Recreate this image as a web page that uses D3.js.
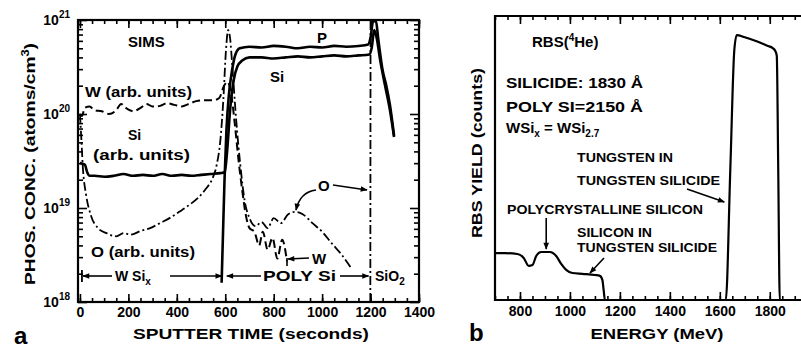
<!DOCTYPE html>
<html>
<head>
<meta charset="utf-8">
<script src="https://cdn.jsdelivr.net/npm/d3@7"></script>
<style>
  body { margin: 0; background: #fff; }
  text { font-family: "Liberation Sans", Arial, sans-serif; font-weight: bold; fill: #000; }
</style>
</head>
<body>
<svg id="fig" width="801" height="350"></svg>
<script>
// ---------- (a) SIMS depth profiles: sputter time (s) vs concentration ----------
const pTime  = [585, 590, 597, 605, 615, 628, 642, 660, 700, 750, 800, 850, 900, 950, 1000, 1050, 1100, 1150, 1190, 1200, 1210, 1222, 1232, 1250, 1265, 1280, 1297];
const pConc  = [1.6e18, 4.6e18, 2.0e19, 6.8e19, 1.6e20, 2.9e20, 4.3e20, 5.0e20, 5.2e20, 5.1e20, 5.3e20, 5.2e20, 5.0e20, 5.2e20, 5.1e20, 5.3e20, 5.2e20, 5.3e20, 5.5e20, 6.5e20, 9.6e20, 9.8e20, 6.2e20, 2.9e20, 2.0e20, 1.25e20, 5.9e19];

const siTime = [0, 20, 30, 40, 60, 100, 140, 180, 220, 260, 300, 340, 380, 420, 460, 500, 540, 580, 598, 608, 620, 635, 650, 670, 700, 750, 800, 850, 900, 950, 1000, 1050, 1100, 1150, 1195, 1205, 1215, 1225, 1240, 1260, 1280, 1297];
const siConc = [3.0e19, 2.9e19, 2.4e19, 2.2e19, 2.2e19, 2.15e19, 2.2e19, 2.3e19, 2.2e19, 2.25e19, 2.2e19, 2.3e19, 2.2e19, 2.25e19, 2.2e19, 2.25e19, 2.3e19, 2.35e19, 2.4e19, 4.1e19, 1.1e20, 2.3e20, 3.2e20, 3.7e20, 4.0e20, 4.0e20, 3.9e20, 4.0e20, 4.1e20, 4.0e20, 4.1e20, 4.2e20, 4.1e20, 4.2e20, 4.3e20, 5.1e20, 7.8e20, 6.5e20, 3.7e20, 2.0e20, 1.1e20, 5.7e19];

const wTime  = [0, 8, 20, 40, 60, 90, 120, 150, 170, 190, 220, 250, 275, 300, 330, 360, 390, 420, 450, 480, 510, 550, 575, 595, 610, 625, 640, 655, 670, 685, 700, 720, 740, 755, 775, 795, 815, 835, 855];
const wConc  = [1.0e20, 0.95e20, 1.16e20, 1.2e20, 1.1e20, 1.07e20, 1.0e20, 1.1e20, 1.28e20, 1.16e20, 1.07e20, 1.16e20, 1.28e20, 1.2e20, 1.22e20, 1.3e20, 1.25e20, 1.2e20, 1.28e20, 1.37e20, 1.4e20, 1.4e20, 1.48e20, 2.0e20, 2.2e20, 1.6e20, 7.6e19, 3.2e19, 1.55e19, 8.4e18, 6.1e18, 5.6e18, 4.0e18, 5.6e18, 3.6e18, 4.8e18, 2.9e18, 4.6e18, 2.7e18];

// oxygen: bulk profile, then the rise at the poly-Si / SiO2 interface
const oTime  = [0, 6, 12, 25, 45, 75, 110, 150, 180, 210, 250, 290, 330, 370, 410, 450, 490, 520, 545, 565, 580, 592, 603, 612, 620, 630, 645, 662, 680, 700, 725, 750, 775, 800, 830, 860, 890, 920, 960, 1000, 1040, 1080, 1120, null, 1199, 1200];
const oConc  = [1.0e20, 5.3e19, 2.7e19, 1.4e19, 8.4e18, 6.1e18, 5.4e18, 5.0e18, 5.4e18, 5.2e18, 5.7e18, 6.1e18, 6.9e18, 7.8e18, 9.1e18, 1.07e19, 1.3e19, 1.6e19, 2.0e19, 2.9e19, 5.3e19, 1.4e20, 4.8e20, 7.8e20, 6.4e20, 3.0e20, 8.7e19, 2.9e19, 1.2e19, 7.8e18, 6.4e18, 7.1e18, 6.1e18, 7.8e18, 6.9e18, 8.6e18, 9.1e18, 8.6e18, 6.9e18, 5.6e18, 4.2e18, 3.2e18, 2.3e18, null, 1.0e18, 1.0e21];

const simsTickLabels = [0, 200, 400, 600, 800, 1000, 1200, 1400];
const simsDecades    = [18, 19, 20, 21];
const layerBounds    = [0, 590, 1200, 1400];

// ---------- (b) RBS spectrum: energy vs yield ----------
const rbsEnergy = [700, 740, 790, 815, 835, 850, 865, 885, 920, 945, 965, 985, 1010, 1050, 1100, 1120, 1130, 1135, 1140, 1400, 1624, 1642, 1658, 1668, 1700, 1750, 1790, 1812, 1822, 1828, 1834, 1840, 1925];
const rbsCounts = [16.5, 16.5, 16.2, 14.8, 12.0, 12.3, 15.5, 16.9, 16.9, 15.5, 12.7, 10.6, 9.5, 9.2, 8.8, 8.5, 7.0, 3.5, 0, 0, 0, 46, 88, 93.3, 92.5, 91, 89.5, 88.7, 87.7, 86, 45, 0, 0];
const rbsTickLabels = [800, 1000, 1200, 1400, 1600, 1800];

const svg = d3.select("#fig");

// arrowhead
svg.append("defs").append("marker")
  .attr("id", "head").attr("viewBox", "0 0 10 10")
  .attr("refX", 9).attr("refY", 5)
  .attr("markerWidth", 8).attr("markerHeight", 7)
  .attr("markerUnits", "userSpaceOnUse")
  .attr("orient", "auto-start-reverse")
  .append("path").attr("d", "M0,1 L10,5 L0,9 Z").attr("fill", "#000");

// ================= panel (a) =================
const xa = d3.scaleLinear().domain([-8, 1400]).range([78, 419]);
const ya = d3.scaleLog().domain([1e18, 1e21]).range([302, 20]);
const ga = svg.append("g");

const minorT = d3.range(0, 1401, 50);
const majorT = simsTickLabels;
const minorC = [];
simsDecades.slice(0, -1).forEach(d => { for (let k = 2; k <= 9; k++) minorC.push(k * Math.pow(10, d)); });
const decades = simsDecades.map(d => Math.pow(10, d));

function strip(g) { g.select(".domain").remove(); g.selectAll("line").attr("stroke", "#000").attr("stroke-width", 1.6); }

ga.append("g").attr("transform", "translate(0,302)")
  .call(d3.axisBottom(xa).tickValues(minorT).tickSize(-4).tickFormat("")).call(strip);
ga.append("g").attr("transform", "translate(0,302)")
  .call(d3.axisBottom(xa).tickValues(majorT).tickSize(-8).tickPadding(5).tickFormat(d3.format("d")))
  .call(strip)
  .call(g => g.selectAll("text").attr("font-size", 14).attr("font-family", "Liberation Sans, Arial, sans-serif").attr("font-weight", "bold").attr("fill", "#000"));
ga.append("g").attr("transform", "translate(0,20)")
  .call(d3.axisTop(xa).tickValues(minorT).tickSize(-4).tickFormat("")).call(strip);
ga.append("g").attr("transform", "translate(0,20)")
  .call(d3.axisTop(xa).tickValues(majorT).tickSize(-8).tickFormat("")).call(strip);

ga.append("g").attr("transform", "translate(78,0)")
  .call(d3.axisLeft(ya).tickValues(minorC).tickSize(-5).tickFormat("")).call(strip);
ga.append("g").attr("transform", "translate(78,0)")
  .call(d3.axisLeft(ya).tickValues(decades).tickSize(-9).tickFormat("")).call(strip);
ga.append("g").attr("transform", "translate(419,0)")
  .call(d3.axisRight(ya).tickValues(minorC).tickSize(-5).tickFormat("")).call(strip);
ga.append("g").attr("transform", "translate(419,0)")
  .call(d3.axisRight(ya).tickValues(decades).tickSize(-9).tickFormat("")).call(strip);

// decade labels 10^n
simsDecades.forEach(d => {
  const t = ga.append("text").attr("x", 70).attr("y", ya(Math.pow(10, d)) + 5)
    .attr("text-anchor", "end").attr("font-size", 14);
  t.append("tspan").text("10");
  t.append("tspan").attr("dy", -7).attr("font-size", 10).text(String(d));
});

ga.append("rect").attr("x", 78).attr("y", 20).attr("width", 341).attr("height", 282)
  .attr("fill", "none").attr("stroke", "#000").attr("stroke-width", 2.2);

const lineA = (ts, cs) => d3.line()
  .defined((d, i) => ts[i] !== null && cs[i] !== null)
  .x((d, i) => xa(ts[i])).y((d, i) => ya(cs[i]))
  .curve(d3.curveMonotoneX)(ts);

ga.append("path").attr("d", lineA(oTime, oConc)).attr("fill", "none").attr("stroke", "#000")
  .attr("stroke-width", 1.8).attr("stroke-dasharray", "9,3,2,3");
ga.append("path").attr("d", lineA(wTime, wConc)).attr("fill", "none").attr("stroke", "#000")
  .attr("stroke-width", 2).attr("stroke-dasharray", "8,4");
ga.append("path").attr("d", lineA(siTime, siConc)).attr("fill", "none").attr("stroke", "#000")
  .attr("stroke-width", 2.6);
ga.append("path").attr("d", lineA(pTime, pConc)).attr("fill", "none").attr("stroke", "#000")
  .attr("stroke-width", 2.6);

// labels inside panel (a)
function label(g, x, y, s, size, extra) {
  const t = g.append("text").attr("x", x).attr("y", y).attr("font-size", size).text(s);
  if (extra) extra(t);
  return t;
}
label(ga, 128, 47, "SIMS", 15);
label(ga, 317, 43, "P", 15);
label(ga, 270, 82, "Si", 15);
label(ga, 85, 97, "W (arb. units)", 14, t => t.attr("textLength", 107).attr("lengthAdjust", "spacingAndGlyphs"));
label(ga, 128, 140, "Si", 14);
label(ga, 93, 160, "(arb. units)", 14, t => t.attr("textLength", 97).attr("lengthAdjust", "spacingAndGlyphs"));
label(ga, 91, 257, "O (arb. units)", 14, t => t.attr("textLength", 104).attr("lengthAdjust", "spacingAndGlyphs"));

// layer bar: W Six | POLY Si | SiO2
const rowY = 276;
const bx = layerBounds.map(xa);
ga.append("line").attr("x1", bx[0] + 2).attr("x2", bx[0] + 2).attr("y1", rowY - 6).attr("y2", rowY + 6).attr("stroke", "#000").attr("stroke-width", 1.8);
function arrow(g, x1, y1, x2, y2, w) {
  g.append("line").attr("x1", x1).attr("y1", y1).attr("x2", x2).attr("y2", y2)
    .attr("stroke", "#000").attr("stroke-width", w || 1.6).attr("marker-end", "url(#head)");
}
arrow(ga, 112, rowY, bx[0] + 3, rowY);
const t1 = ga.append("text").attr("x", 115).attr("y", rowY + 5).attr("font-size", 14);
t1.append("tspan").text("W Si");
t1.append("tspan").attr("dy", 4).attr("font-size", 10).text("x");
arrow(ga, 170, rowY, bx[1] - 1, rowY);
arrow(ga, 261, rowY, bx[1] + 4, rowY);
label(ga, 263, rowY + 5, "POLY Si", 14, t => t.attr("textLength", 73).attr("lengthAdjust", "spacingAndGlyphs"));
arrow(ga, 340, rowY, bx[2] - 2, rowY);
const t2 = ga.append("text").attr("x", 375).attr("y", rowY + 5).attr("font-size", 14);
t2.append("tspan").text("SiO");
t2.append("tspan").attr("dy", 4).attr("font-size", 10).text("2");

// O and W call-outs in poly-Si
label(ga, 318, 191, "O", 15);
ga.append("path").attr("d", `M316,190 Q300,192 296,210`).attr("fill", "none")
  .attr("stroke", "#000").attr("stroke-width", 1.6).attr("marker-end", "url(#head)");
arrow(ga, 333, 185, 367, 190);
label(ga, 312, 264, "W", 15);
arrow(ga, 309, 258, 288, 259);
ga.append("line").attr("x1", 287).attr("x2", 287).attr("y1", 258).attr("y2", 266).attr("stroke", "#000").attr("stroke-width", 1.6);

// axis titles (a)
ga.append("text").attr("x", 251).attr("y", 339).attr("text-anchor", "middle").attr("font-size", 15)
  .attr("textLength", 236).attr("lengthAdjust", "spacingAndGlyphs").text("SPUTTER TIME (seconds)");
const ytA = ga.append("text").attr("transform", "translate(35,164) rotate(-90)")
  .attr("text-anchor", "middle").attr("font-size", 15)
  .attr("textLength", 242).attr("lengthAdjust", "spacingAndGlyphs");
ytA.append("tspan").text("PHOS. CONC. (atoms/cm");
ytA.append("tspan").attr("dy", -6).attr("font-size", 10).text("3");
ytA.append("tspan").attr("dy", 6).text(")");
label(ga, 14, 344, "a", 24);

// ================= panel (b) =================
const xb = d3.scaleLinear().domain([700, 1925]).range([495, 801]);
const yb = d3.scaleLinear().domain([0, 100]).range([300, 16]);
const gb = svg.append("g");

const minorE = d3.range(700, 1926, 50);
const majorE = rbsTickLabels;
gb.append("g").attr("transform", "translate(0,300)")
  .call(d3.axisBottom(xb).tickValues(minorE).tickSize(-4).tickFormat("")).call(strip);
gb.append("g").attr("transform", "translate(0,300)")
  .call(d3.axisBottom(xb).tickValues(majorE).tickSize(-8).tickPadding(6).tickFormat(d3.format("d")))
  .call(strip)
  .call(g => g.selectAll("text").attr("font-size", 14).attr("font-family", "Liberation Sans, Arial, sans-serif").attr("font-weight", "bold").attr("fill", "#000"));
gb.append("g").attr("transform", "translate(0,16)")
  .call(d3.axisTop(xb).tickValues(minorE).tickSize(-4).tickFormat("")).call(strip);
gb.append("g").attr("transform", "translate(0,16)")
  .call(d3.axisTop(xb).tickValues(majorE).tickSize(-8).tickFormat("")).call(strip);

gb.append("path").attr("d", `M801,16 H495 V300 H801`).attr("fill", "none")
  .attr("stroke", "#000").attr("stroke-width", 2.2);

gb.append("path")
  .attr("d", d3.line().x((d, i) => xb(rbsEnergy[i])).y((d, i) => yb(rbsCounts[i])).curve(d3.curveMonotoneX)(rbsEnergy))
  .attr("fill", "none").attr("stroke", "#000").attr("stroke-width", 2.2);

const rb = gb.append("text").attr("x", 532).attr("y", 47).attr("font-size", 15);
rb.append("tspan").text("RBS(");
rb.append("tspan").attr("dy", -6).attr("font-size", 10).text("4");
rb.append("tspan").attr("dy", 6).text("He)");
label(gb, 506, 88, "SILICIDE: 1830 Å", 15, t => t.attr("textLength", 137).attr("lengthAdjust", "spacingAndGlyphs"));
label(gb, 506, 112, "POLY  SI=2150 Å", 15, t => t.attr("textLength", 137).attr("lengthAdjust", "spacingAndGlyphs"));
const ws = gb.append("text").attr("x", 506).attr("y", 133).attr("font-size", 15);
ws.append("tspan").text("WSi");
ws.append("tspan").attr("dy", 4).attr("font-size", 10).text("x");
ws.append("tspan").attr("dy", -4).text(" = WSi");
ws.append("tspan").attr("dy", 4).attr("font-size", 10).text("2.7");

label(gb, 577, 162, "TUNGSTEN IN", 12, t => t.attr("textLength", 96).attr("lengthAdjust", "spacingAndGlyphs"));
label(gb, 577, 185, "TUNGSTEN SILICIDE", 12, t => t.attr("textLength", 143).attr("lengthAdjust", "spacingAndGlyphs"));
arrow(gb, 687, 189, xb(1622) - 1, 202);
label(gb, 507, 214, "POLYCRYSTALLINE SILICON", 12, t => t.attr("textLength", 196).attr("lengthAdjust", "spacingAndGlyphs"));
arrow(gb, xb(905), 218, xb(905), 249);
label(gb, 577, 237, "SILICON IN", 12, t => t.attr("textLength", 75).attr("lengthAdjust", "spacingAndGlyphs"));
label(gb, 577, 252, "TUNGSTEN SILICIDE", 12, t => t.attr("textLength", 140).attr("lengthAdjust", "spacingAndGlyphs"));
arrow(gb, 604, 258, 590, 273);

gb.append("text").attr("x", 657).attr("y", 339).attr("text-anchor", "middle").attr("font-size", 15)
  .attr("textLength", 133).attr("lengthAdjust", "spacingAndGlyphs").text("ENERGY (MeV)");
gb.append("text").attr("transform", "translate(482,153) rotate(-90)")
  .attr("text-anchor", "middle").attr("font-size", 15)
  .attr("textLength", 170).attr("lengthAdjust", "spacingAndGlyphs").text("RBS YIELD (counts)");
label(gb, 469, 341, "b", 24);
</script>
</body>
</html>
